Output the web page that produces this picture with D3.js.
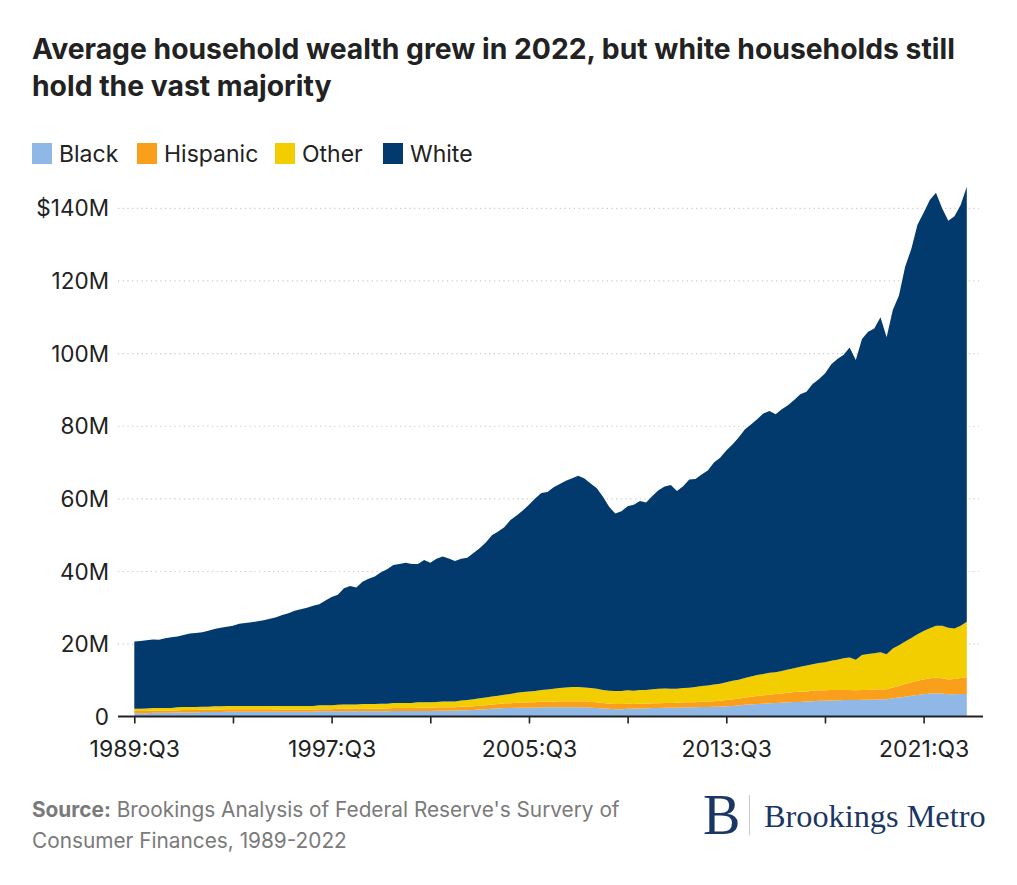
<!DOCTYPE html>
<html>
<head>
<meta charset="utf-8">
<script src="https://cdn.jsdelivr.net/npm/d3@7"></script>
<style>
  html, body { margin: 0; padding: 0; background: #fff; }
  svg { display: block; }
  .sans { font-family: Inter, "Noto Sans", sans-serif; }
  .serif { font-family: "Liberation Serif", "DejaVu Serif", serif; }
</style>
</head>
<body>
<svg id="chart" width="1017" height="885"></svg>
<script>
// ---------- DATA ----------
const seriesNames = ["Black", "Hispanic", "Other", "White"];
const seriesColors = ["#8fb8e6", "#fa9f1c", "#f2cd00", "#033a6e"];
const xTickLabels = ["1989:Q3", "1997:Q3", "2005:Q3", "2013:Q3", "2021:Q3"];
const yTickValues = [0, 20, 40, 60, 80, 100, 120, 140];

// Quarterly categories, 1989:Q3 .. 2023:Q2
const quarters = [];
for (let y = 1989, q = 3; quarters.length < 136; ) {
  quarters.push(y + ":Q" + q);
  q++; if (q > 4) { q = 1; y++; }
}

// values in $ millions
const black = [
  1.0,1.0,1.0,1.1,1.1,1.1,1.1,1.2,1.2,1.2,1.2,1.3,1.3,1.3,1.3,1.4,
  1.4,1.4,1.4,1.4,1.4,1.4,1.4,1.4,1.4,1.4,1.4,1.4,1.4,1.4,1.5,1.5,
  1.5,1.5,1.5,1.5,1.5,1.5,1.5,1.5,1.5,1.5,1.6,1.6,1.6,1.6,1.6,1.6,
  1.6,1.7,1.7,1.7,1.7,1.8,1.8,1.9,2.0,2.1,2.2,2.3,2.4,2.4,2.5,2.5,
  2.5,2.5,2.6,2.6,2.6,2.6,2.6,2.6,2.6,2.6,2.5,2.4,2.3,2.2,2.1,2.1,
  2.2,2.2,2.3,2.3,2.4,2.4,2.5,2.5,2.5,2.6,2.6,2.6,2.7,2.7,2.8,2.8,
  2.9,3.0,3.1,3.3,3.4,3.5,3.6,3.7,3.8,3.9,4.0,4.1,4.1,4.2,4.3,4.4,
  4.4,4.5,4.5,4.6,4.6,4.6,4.7,4.7,4.7,4.8,4.8,5.1,5.3,5.5,5.8,6.0,
  6.2,6.4,6.5,6.4,6.2,6.2,6.3,6.3
];
const hispanic = [
  0.6,0.6,0.6,0.6,0.6,0.6,0.6,0.6,0.7,0.7,0.7,0.7,0.7,0.7,0.7,0.7,
  0.7,0.7,0.7,0.7,0.7,0.7,0.7,0.6,0.6,0.6,0.6,0.6,0.6,0.6,0.6,0.6,
  0.6,0.7,0.7,0.7,0.7,0.7,0.7,0.7,0.8,0.8,0.8,0.8,0.8,0.8,0.9,0.9,
  0.9,0.9,0.9,0.9,0.9,1.0,1.0,1.0,1.1,1.1,1.2,1.2,1.3,1.3,1.4,1.4,
  1.5,1.5,1.6,1.6,1.6,1.7,1.7,1.7,1.7,1.7,1.6,1.6,1.5,1.4,1.4,1.4,
  1.4,1.3,1.3,1.3,1.3,1.3,1.3,1.3,1.4,1.4,1.4,1.4,1.5,1.5,1.5,1.6,
  1.7,1.8,1.9,2.0,2.1,2.2,2.3,2.4,2.5,2.5,2.6,2.7,2.8,2.8,2.9,2.9,
  2.9,2.9,2.9,2.8,2.8,2.7,2.7,2.7,2.8,2.8,2.8,3.0,3.2,3.5,3.7,3.9,
  4.1,4.2,4.3,4.2,4.1,4.2,4.4,4.6
];
const other = [
  0.6,0.6,0.7,0.7,0.7,0.7,0.7,0.8,0.8,0.8,0.8,0.8,0.8,0.9,0.9,0.9,
  0.9,0.9,0.9,0.9,0.9,0.9,0.9,1.0,1.0,1.0,1.0,1.0,1.0,1.0,1.1,1.1,
  1.1,1.1,1.2,1.2,1.2,1.3,1.3,1.3,1.3,1.3,1.4,1.4,1.4,1.4,1.5,1.5,
  1.5,1.5,1.6,1.6,1.6,1.7,1.8,1.9,2.0,2.1,2.2,2.3,2.4,2.6,2.7,2.9,
  3.0,3.1,3.2,3.3,3.5,3.6,3.8,3.9,3.9,3.8,3.8,3.7,3.6,3.6,3.6,3.6,
  3.7,3.7,3.8,3.8,3.9,4.0,4.0,3.9,3.8,3.9,4.0,4.2,4.3,4.4,4.6,4.7,
  4.9,5.1,5.2,5.4,5.6,5.8,5.9,6.0,6.0,6.2,6.4,6.6,6.9,7.1,7.3,7.5,
  7.7,8.0,8.3,8.7,8.9,8.4,9.6,9.9,10.0,10.2,9.6,10.7,11.2,11.7,12.2,12.8,
  13.3,13.8,14.3,14.5,14.2,13.9,14.4,15.3
];
const white = [
  18.5,18.7,18.8,18.9,18.8,19.2,19.5,19.5,19.8,20.2,20.4,20.5,20.9,21.3,21.6,21.8,
  22.1,22.6,22.8,23.0,23.3,23.6,24.0,24.4,25.0,25.5,26.2,26.6,27.0,27.6,27.8,28.8,
  29.8,30.3,32.0,32.6,32.2,33.7,34.5,35.1,36.2,37.0,38.0,38.3,38.6,38.3,38.1,39.2,
  38.4,39.4,39.9,39.4,38.7,39.0,39.2,40.3,41.3,42.7,44.4,45.2,46.1,47.9,48.8,50.0,
  51.4,53.0,54.2,54.4,55.5,56.2,56.9,57.5,58.2,57.5,56.3,55.2,53.2,50.6,48.9,49.5,
  50.7,51.2,52.0,51.6,53.2,54.7,55.6,56.1,54.5,55.6,57.3,57.3,58.2,59.2,61.1,62.2,
  63.8,65.1,66.7,68.4,69.4,70.4,71.7,72.1,71.0,72.1,72.8,73.8,75.0,75.4,77.1,78.1,
  79.5,81.6,82.8,83.5,85.4,82.5,87.0,88.7,89.4,92.2,87.3,93.2,96.3,103.2,107.1,112.8,
  115.2,117.9,119.2,114.9,112.1,113.5,115.8,119.7
];

// ---------- BUILD TABLE ----------
const seriesValues = [black, hispanic, other, white];
const table = quarters.map((q, i) => {
  const row = { idx: i, quarter: q };
  seriesNames.forEach((n, k) => row[n] = seriesValues[k][i]);
  return row;
});

const svg = d3.select("#chart");
const W = 1017, H = 885;
svg.append("rect").attr("width", W).attr("height", H).attr("fill", "#fff");

// ---------- TITLE ----------
const title = svg.append("text").attr("class", "sans")
  .attr("x", 32).attr("font-size", 28.3).attr("font-weight", 700).attr("fill", "#222");
title.append("tspan").attr("x", 32).attr("y", 59)
  .text("Average household wealth grew in 2022, but white households still");
title.append("tspan").attr("x", 32).attr("y", 96)
  .text("hold the vast majority");

// ---------- LEGEND ----------
const legendX = [32, 137, 275, 383];
const legend = svg.append("g");
seriesNames.forEach((n, k) => {
  legend.append("rect")
    .attr("x", legendX[k]).attr("y", 143).attr("width", 20).attr("height", 21)
    .attr("fill", seriesColors[k]);
  legend.append("text").attr("class", "sans")
    .attr("x", legendX[k] + 27).attr("y", 161.5)
    .attr("font-size", 23).attr("fill", "#222").text(n);
});

// ---------- SCALES ----------
const x = d3.scaleLinear().domain([0, quarters.length - 1]).range([134.3, 966.8]);
const y = d3.scaleLinear().domain([0, 140]).range([716.8, 208.3]);

// gridlines
svg.append("g").selectAll("line")
  .data(yTickValues.filter(v => v > 0))
  .join("line")
  .attr("x1", 118).attr("x2", 979)
  .attr("y1", d => y(d)).attr("y2", d => y(d))
  .attr("stroke", "#c8c8c8").attr("stroke-width", 1.2)
  .attr("stroke-dasharray", "1.2,3.5");

// ---------- STACKED AREAS ----------
const stack = d3.stack().keys(seriesNames);
const layers = stack(table);
const area = d3.area()
  .x(d => x(d.data.idx))
  .y0(d => y(d[0]))
  .y1(d => y(d[1]))
  .curve(d3.curveLinear);

svg.append("g").selectAll("path")
  .data(layers)
  .join("path")
  .attr("d", area)
  .attr("fill", (d, k) => seriesColors[k]);

// ---------- Y AXIS LABELS ----------
svg.append("g").selectAll("text")
  .data(yTickValues)
  .join("text").attr("class", "sans")
  .attr("x", 109).attr("y", d => y(d) + 8)
  .attr("text-anchor", "end")
  .attr("font-size", 22.5).attr("fill", "#222")
  .text(d => d === 140 ? "$140M" : (d === 0 ? "0" : d + "M"));

// ---------- X AXIS ----------
const xAxis = d3.axisBottom(x)
  .tickValues(d3.range(0, quarters.length, 16))
  .tickSize(7)
  .tickFormat(i => xTickLabels.includes(quarters[i]) ? quarters[i] : "");
const gx = svg.append("g").attr("transform", "translate(0,716.5)").call(xAxis);
gx.select(".domain").remove();
gx.append("line").attr("x1", 118).attr("x2", 983).attr("y1", 0).attr("y2", 0)
  .attr("stroke", "#222").attr("stroke-width", 2);
gx.selectAll(".tick line").attr("stroke", "#222").attr("stroke-width", 1.6);
gx.selectAll(".tick text")
  .attr("class", "sans")
  .style("font-family", "Inter, 'Noto Sans', sans-serif")
  .style("font-size", "23px").attr("fill", "#222").attr("dy", "0")
  .attr("y", 40);

// ---------- SOURCE ----------
const src = svg.append("g").attr("class", "sans").attr("font-size", 20.8).attr("fill", "#7a7a7a");
const s1 = src.append("text").attr("x", 32).attr("y", 817);
s1.append("tspan").attr("font-weight", 700).text("Source:");
s1.append("tspan").text(" Brookings Analysis of Federal Reserve's Survery of");
src.append("text").attr("x", 32).attr("y", 848).text("Consumer Finances, 1989-2022");

// ---------- LOGO ----------
const logo = svg.append("g");
logo.append("text").attr("class", "serif").attr("x", 703).attr("y", 834)
  .attr("font-size", 56).attr("fill", "#1b3664").text("B");
logo.append("line").attr("x1", 749.5).attr("x2", 749.5).attr("y1", 795).attr("y2", 835)
  .attr("stroke", "#c9c9c9").attr("stroke-width", 1);
logo.append("text").attr("class", "serif").attr("x", 764).attr("y", 827)
  .attr("font-size", 32.3).attr("fill", "#1b3664").text("Brookings Metro");
</script>
</body>
</html>
